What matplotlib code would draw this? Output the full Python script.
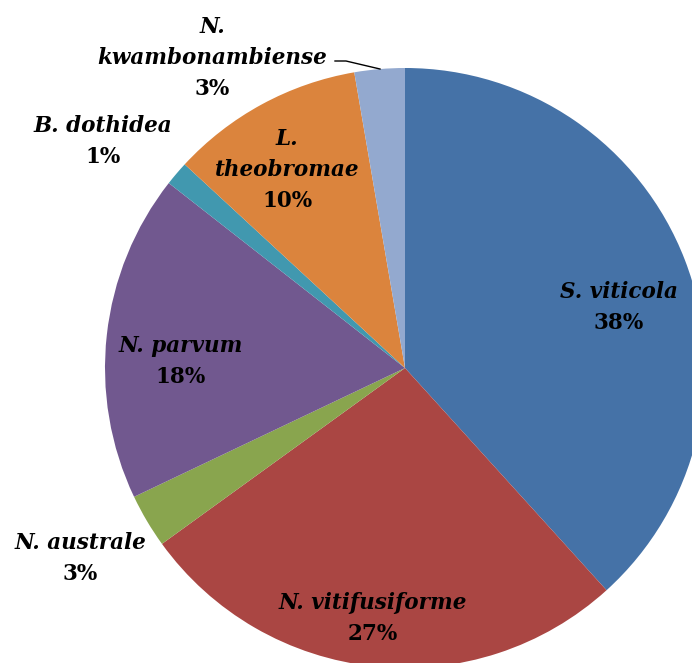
import matplotlib
matplotlib.use("Agg")
import matplotlib.pyplot as plt

species = ["S. viticola", "N. vitifusiforme", "N. australe", "N. parvum",
           "B. dothidea", "L. theobromae", "N. kwambonambiense"]
name_lines = [["S. viticola"], ["N. vitifusiforme"], ["N. australe"], ["N. parvum"],
              ["B. dothidea"], ["L.", "theobromae"], ["N.", "kwambonambiense"]]
shares = [38.2, 26.7, 2.9, 17.6, 1.3, 10.4, 2.7]
colors = ["#4572A7", "#AA4643", "#89A54E", "#71588F", "#4198AF", "#DB843D", "#93A9CF"]

# label centre positions in pixel space (x, y of top line)
W, H = 692, 663
CX, CY, R = 405, 368, 300
label_px = [(619, 292), (373, 603), (80, 543), (181, 346), (103, 126), (287, 139), (212, 27)]
LINE = 31

fig = plt.figure(figsize=(W / 100, H / 100), dpi=100)
ax = fig.add_axes([0, 0, 1, 1])

ax.pie(shares, colors=colors, startangle=90, counterclock=False, radius=1.0,
       wedgeprops=dict(linewidth=0))

ax.set_xlim(-CX / R, (W - CX) / R)
ax.set_ylim(-(H - CY) / R, CY / R)
ax.set_aspect("equal")
ax.axis("off")

fam = "DejaVu Serif"
fs = 15.5
for lines, v, (px, py) in zip(name_lines, shares, label_px):
    y = py
    for ln in lines:
        ax.text((px - CX) / R, (CY - y) / R, ln, ha="center", va="center",
                fontsize=fs, fontweight="bold", fontstyle="italic", family=fam, color="black")
        y += LINE
    ax.text((px - CX) / R, (CY - y) / R, f"{v:.0f}%", ha="center", va="center",
            fontsize=fs, fontweight="bold", family=fam, color="black")

# leader line for the small slice
ax.plot([(335 - CX) / R, (346 - CX) / R, (380 - CX) / R],
        [(CY - 61) / R, (CY - 61) / R, (CY - 69) / R], color="black", lw=1.0)

fig.savefig("out.png", dpi=100)
